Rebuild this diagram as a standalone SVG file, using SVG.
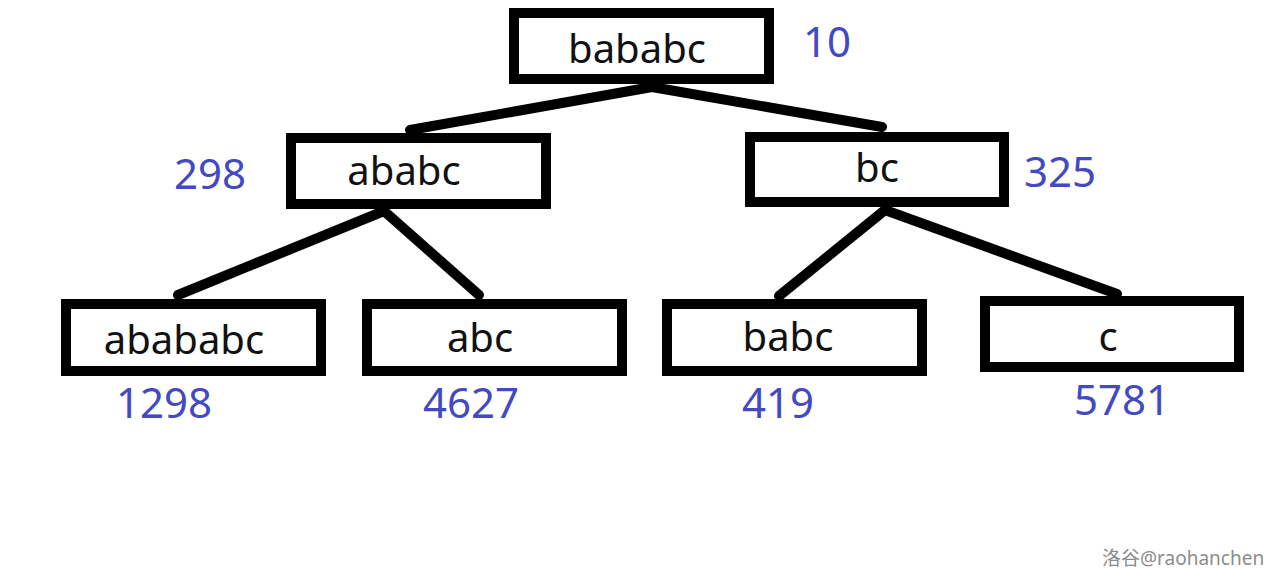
<svg xmlns="http://www.w3.org/2000/svg" width="1284" height="588" viewBox="0 0 1284 588">
<style>
.box{fill:#fff;stroke:#000;stroke-width:10;stroke-linejoin:miter}
.lbl{font-family:"Noto Sans","Open Sans",sans-serif;font-size:40px;fill:#111;text-anchor:middle}
.num{font-family:"Noto Sans","Open Sans",sans-serif;font-size:42px;fill:#4349c2;text-anchor:middle}
.edge{stroke:#000;stroke-width:10;stroke-linecap:round;stroke-linejoin:round;fill:none}
.wm{font-family:"Noto Sans","Noto Sans CJK SC",sans-serif;font-size:19px;fill:#8c8c8c}
</style>
<rect width="1284" height="588" fill="#fff"/>
<g id="connectors">
<path class="edge" d="M410 130 L652 87 L882 127"/>
<path class="edge" d="M178 295 L384 211 L479 295"/>
<path class="edge" d="M779 296 L885 210 L1117 294"/>
</g>
<g id="n-bababc"><rect class="box" x="514" y="13" width="255" height="66"/><text class="lbl" x="637" y="63">bababc</text></g>
<g id="n-ababc"><rect class="box" x="291" y="138" width="255" height="66"/><text class="lbl" x="404" y="185">ababc</text></g>
<g id="n-bc"><rect class="box" x="750" y="137" width="254" height="65"/><text class="lbl" x="877" y="182">bc</text></g>
<g id="n-abababc"><rect class="box" x="66" y="304" width="255" height="67"/><text class="lbl" x="184" y="354">abababc</text></g>
<g id="n-abc"><rect class="box" x="367" y="304" width="255" height="67"/><text class="lbl" x="480" y="352">abc</text></g>
<g id="n-babc"><rect class="box" x="667" y="304" width="255" height="67"/><text class="lbl" x="788" y="351">babc</text></g>
<g id="n-c"><rect class="box" x="985" y="301" width="254" height="66"/><text class="lbl" x="1108" y="351">c</text></g>
<g id="numbers">
<text class="num" x="827" y="57">10</text>
<text class="num" x="210" y="189">298</text>
<text class="num" x="1060" y="187">325</text>
<text class="num" x="164" y="418">1298</text>
<text class="num" x="471" y="418">4627</text>
<text class="num" x="778" y="418">419</text>
<text class="num" x="1122" y="415">5781</text>
</g>
<text class="wm" x="1102" y="565">洛谷@raohanchen</text>
</svg>
